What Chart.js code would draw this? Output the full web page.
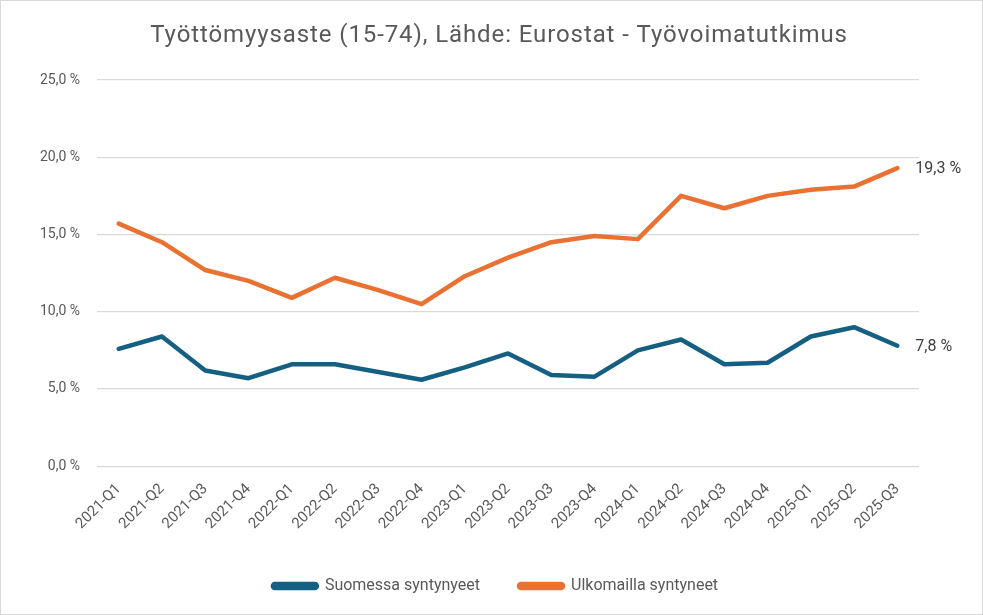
<!DOCTYPE html>
<html>
<head>
<meta charset="utf-8">
<script src="https://cdn.jsdelivr.net/npm/chart.js@4.4.0/dist/chart.umd.min.js"></script>
<style>
html,body{margin:0;padding:0;background:#fff;}
#wrap{position:absolute;left:0;top:0;width:981px;height:613px;border:1px solid #d9d9d9;background:#fff;}
canvas{display:block;}
</style>
</head>
<body>
<div id="wrap"><canvas id="c" width="981" height="613"></canvas></div>
<script>
const categories = ["2021-Q1","2021-Q2","2021-Q3","2021-Q4","2022-Q1","2022-Q2","2022-Q3","2022-Q4","2023-Q1","2023-Q2","2023-Q3","2023-Q4","2024-Q1","2024-Q2","2024-Q3","2024-Q4","2025-Q1","2025-Q2","2025-Q3"];
const suomessa = [7.6,8.4,6.2,5.7,6.6,6.6,6.1,5.6,6.4,7.3,5.9,5.8,7.5,8.2,6.6,6.7,8.4,9.0,7.8];
const ulkomailla = [15.7,14.5,12.7,12.0,10.9,12.2,11.4,10.5,12.3,13.5,14.5,14.9,14.7,17.5,16.7,17.5,17.9,18.1,19.3];
const seriesNames = ["Suomessa syntynyeet","Ulkomailla syntyneet"];
const yTicks = [0,5,10,15,20,25];
const titleText = "Työttömyysaste (15-74), Lähde: Eurostat - Työvoimatutkimus";

const fmt = v => v.toFixed(1).replace('.', ',') + ' %';
const FONT = "Roboto, 'Open Sans', sans-serif";

const titlePlugin = {
  id: 'customTitle',
  afterDraw(chart) {
    const ctx = chart.ctx;
    ctx.save();
    ctx.font = "24px " + FONT;
    if ('letterSpacing' in ctx) ctx.letterSpacing = '0.9px';
    ctx.fillStyle = '#595959';
    ctx.textAlign = 'center';
    ctx.textBaseline = 'middle';
    ctx.fillText(titleText, 498, 35);
    ctx.restore();
  }
};

const endLabels = {
  id: 'endLabels',
  afterDatasetsDraw(chart) {
    const ctx = chart.ctx;
    ctx.save();
    ctx.font = "16px " + FONT;
    ctx.fillStyle = '#404040';
    ctx.textBaseline = 'middle';
    ctx.textAlign = 'left';
    chart.data.datasets.forEach((ds, i) => {
      const meta = chart.getDatasetMeta(i);
      const pt = meta.data[meta.data.length - 1];
      const v = ds.data[ds.data.length - 1];
      ctx.fillText(fmt(v), pt.x + 18, pt.y + 1);
    });
    ctx.restore();
  }
};

new Chart(document.getElementById('c'), {
  type: 'line',
  data: {
    labels: categories,
    datasets: [
      { label: seriesNames[0], data: suomessa, borderColor: '#156082', backgroundColor: '#156082', borderWidth: 4.5, pointRadius: 0, tension: 0, borderCapStyle: 'round', borderJoinStyle: 'round' },
      { label: seriesNames[1], data: ulkomailla, borderColor: '#E97132', backgroundColor: '#E97132', borderWidth: 4.5, pointRadius: 0, tension: 0, borderCapStyle: 'round', borderJoinStyle: 'round' }
    ]
  },
  options: {
    responsive: false,
    animation: false,
    layout: { padding: { left: 22, right: 14, top: 79, bottom: 10 } },
    plugins: {
      title: { display: false },
      legend: {
        position: 'bottom',
        labels: { color: '#595959', font: { family: FONT, size: 16 }, boxWidth: 44, boxHeight: 4, padding: 39, useBorderRadius: true, borderRadius: 2 },
      },
      tooltip: { enabled: false }
    },
    scales: {
      x: {
        offset: true,
        grid: { display: false },
        border: { display: false },
        ticks: { color: '#595959', font: { family: FONT, size: 15 }, maxRotation: 45, minRotation: 45, padding: 6 }
      },
      y: {
        min: 0, max: 25,
        afterBuildTicks: axis => { axis.ticks = yTicks.map(v => ({ value: v })); },
        grid: { color: '#d9d9d9', lineWidth: 1.3, drawTicks: false },
        border: { display: false },
        ticks: { color: '#595959', font: { family: FONT, size: 14 }, padding: 17, callback: v => fmt(v) }
      },
      yRight: {
        position: 'right',
        min: 0, max: 25,
        grid: { display: false, drawOnChartArea: false },
        border: { display: false },
        ticks: { display: false },
        afterFit: axis => { axis.width = 49; }
      }
    }
  },
  plugins: [endLabels, titlePlugin]
});
</script>
</body>
</html>
